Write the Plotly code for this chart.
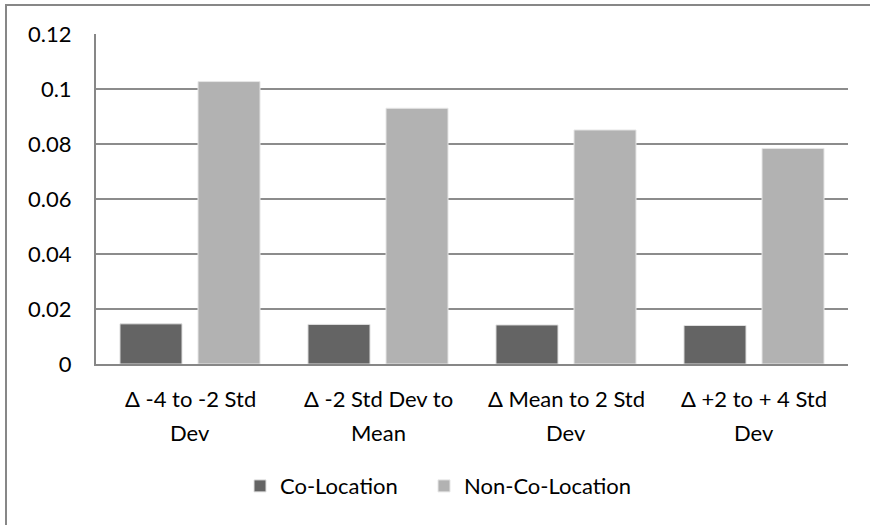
import plotly.graph_objects as go

# Category labels (two lines each) and series values
categories = ["Δ -4 to -2 Std Dev", "Δ -2 Std Dev to Mean", "Δ Mean to 2 Std Dev", "Δ +2 to + 4 Std Dev"]
label_line1 = ["Δ -4 to -2 Std", "Δ -2 Std Dev to", "Δ Mean to 2 Std", "Δ +2 to + 4 Std"]
label_line2 = ["Dev", "Mean", "Dev", "Dev"]
co_location = [0.0146, 0.0144, 0.0142, 0.0140]
non_co_location = [0.1027, 0.0930, 0.0851, 0.0784]
y_ticks = [0, 0.02, 0.04, 0.06, 0.08, 0.1, 0.12]
y_tick_labels = ["0", "0.02", "0.04", "0.06", "0.08", "0.1", "0.12"]

FONT = "Lato"
FS = 22
W, H = 870, 525
ML, MR, MT, MB = 96, 22, 34, 161
PW = W - ML - MR

fig = go.Figure()
fig.add_trace(go.Bar(x=categories, y=co_location, name="Co-Location", legend="legend",
                     marker=dict(color="#646464", line=dict(color="#e0e0e0", width=1))))
fig.add_trace(go.Bar(x=categories, y=non_co_location, name="Non-Co-Location", legend="legend2",
                     marker=dict(color="#b2b2b2", line=dict(color="#e6e6e6", width=1))))

# Two-line category labels under the axis
for cat, l1, l2 in zip(categories, label_line1, label_line2):
    for text, shift in ((l1, -34), (l2, -68)):
        fig.add_annotation(x=cat, y=0, xref="x", yref="paper", text=text,
                           showarrow=False, yanchor="middle", yshift=shift,
                           font=dict(family=FONT, size=FS, color="#000000"))

# Chart border (top and left edges visible)
fig.add_shape(type="rect", xref="paper", yref="paper",
              x0=(6 - ML) / PW, x1=(W + 10 - ML) / PW,
              y0=(MB - H - 10) / (H - MT - MB), y1=(H - 5 - MB) / (H - MT - MB),
              line=dict(color="#878787", width=2), layer="below")

legend_style = dict(orientation="h", xanchor="left", y=-0.37, yanchor="middle",
                    font=dict(family=FONT, size=FS), itemwidth=30)

fig.update_layout(
    width=W, height=H,
    margin=dict(l=ML, r=MR, t=MT, b=MB),
    paper_bgcolor="white", plot_bgcolor="white",
    barmode="group", bargap=0.17, bargroupgap=0.205,
    font=dict(family=FONT, size=FS, color="#000000"),
    showlegend=True,
    legend=dict(x=(240 - ML) / PW, **legend_style),
    legend2=dict(x=(424 - ML) / PW, **legend_style),
    xaxis=dict(showticklabels=False, showline=True, linecolor="#878787", linewidth=2,
               ticks="", showgrid=False),
    yaxis=dict(range=[0, 0.12], tickvals=y_ticks, ticktext=y_tick_labels,
               showgrid=True, gridcolor="#8c8c8c", gridwidth=2,
               showline=True, linecolor="#878787", linewidth=2,
               ticks="", ticklabelstandoff=18, zeroline=False,
               tickfont=dict(family=FONT, size=FS)),
)

fig.write_html("out.html")
